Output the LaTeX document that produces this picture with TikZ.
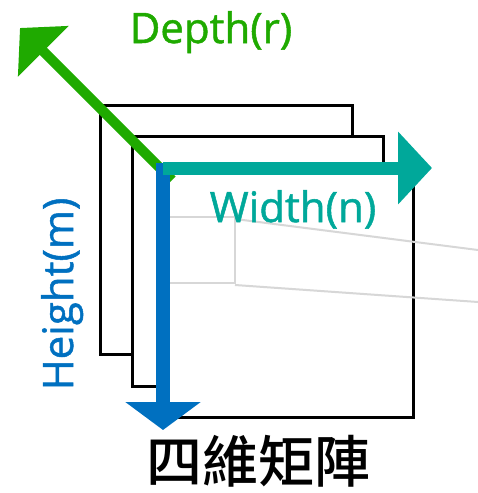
\documentclass[tikz,border=0pt]{standalone}
\usepackage{fontspec}
\setmainfont{Open Sans}[FakeBold=1.2]
\newfontfamily\cjk{Noto Sans CJK TC}[UprightFont=* Medium]
\usetikzlibrary{arrows.meta}
\definecolor{dgreen}{RGB}{31,170,0}
\definecolor{dteal}{RGB}{0,168,154}
\definecolor{dblue}{RGB}{0,112,192}
\definecolor{lgray}{RGB}{215,215,215}
\tikzset{
  layer/.style={draw=black, line width=3pt, fill=white},
  grid/.style={draw=lgray, line width=2pt},
  axis/.style={line width=#1},
  lbl/.style={font=\fontsize{42}{50}\selectfont, inner sep=0pt, anchor=base},
}
\begin{document}
\begin{tikzpicture}[x=1pt,y=-1pt]
\useasboundingbox (0,0) rectangle (478,493);
% stacked layers
\draw[layer] (100,105) rectangle (352,354);
\draw[layer] (132,136) rectangle (383,386);
\draw[layer] (163,168) rectangle (413,417);
% faint grid lines
\draw[grid] (170,217) -- (235,217) -- (235,283) -- (170,283);
\draw[grid] (235,219) -- (478,250);
\draw[grid] (235,285) -- (478,302);
% axes
\coordinate (o) at (163,168);
\coordinate (gs) at (172,180);
\coordinate (gt) at (20,28);
\coordinate (wt) at (432,168);
\coordinate (ht) at (163,430);
\draw[axis=10pt, draw=dgreen, -{Triangle[length=33pt,width=70pt]}] (gs) -- (gt);
\draw[axis=14pt, draw=dblue, -{Triangle[length=28pt,width=74pt]}] (163,163) -- (ht);
\draw[axis=13pt, draw=dteal, -{Triangle[length=34pt,width=71pt]}] (o) -- (wt);
% labels
\node[lbl, text=dgreen] (depth) at (211,43) {Depth(r)};
\node[lbl, text=dteal] (width) at (293,222) {Width(n)};
\node[lbl, text=dblue, rotate=90] (height) at (73,294) {Height(m)};
\node[inner sep=0pt, anchor=base, font=\cjk\fontsize{56}{60}\selectfont] (title) at (258,482) {四維矩陣};
\end{tikzpicture}
\end{document}
